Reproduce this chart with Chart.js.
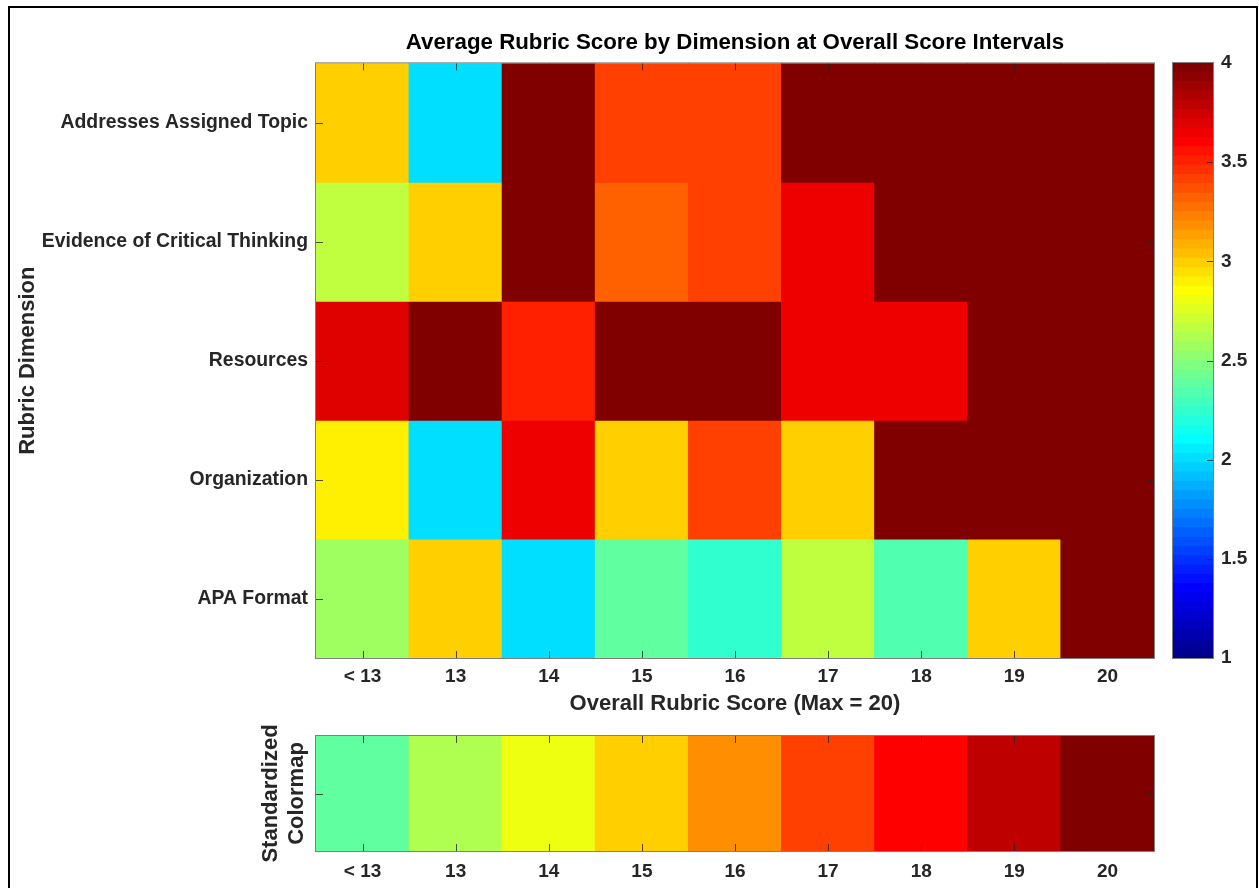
<!DOCTYPE html>
<html><head><meta charset="utf-8">
<script src="https://cdn.jsdelivr.net/npm/chart.js@4.4.1/dist/chart.umd.min.js"></script>
<style>
html,body{margin:0;padding:0;background:#fff;}
#wrap{position:relative;width:1259px;height:888px;overflow:hidden;background:#fff;}
canvas{position:absolute;}
#frame{position:absolute;left:8px;top:6px;width:1250px;height:900px;border:2px solid #000;border-bottom:none;box-sizing:border-box;}
</style></head><body>
<div id="wrap">
<div id="frame"></div>
<canvas id="main" width="1259" height="730" style="left:0;top:0"></canvas>
<canvas id="cbar" width="99" height="730" style="left:1160px;top:0"></canvas>
<canvas id="strip" width="1259" height="188" style="left:0;top:700px"></canvas>
</div>
<script>
// ---- data ----
const scoreLabels = ['< 13','13','14','15','16','17','18','19','20'];
const dimensions = ['Addresses Assigned Topic','Evidence of Critical Thinking','Resources','Organization','APA Format'];
const addressesTopic   = [3.0, 2.0, 4.0, 3.4, 3.4, 4.0, 4.0, 4.0, 4.0];
const criticalThinking = [2.67, 3.0, 4.0, 3.33, 3.4, 3.65, 4.0, 4.0, 4.0];
const resources        = [3.7, 4.0, 3.5, 4.0, 4.0, 3.65, 3.65, 4.0, 4.0];
const organization     = [2.9, 2.0, 3.65, 3.0, 3.4, 3.0, 4.0, 4.0, 4.0];
const apaFormat        = [2.57, 3.0, 2.0, 2.4, 2.25, 2.67, 2.33, 3.0, 4.0];
const standardized     = [2.4, 2.6, 2.8, 3.0, 3.2, 3.4, 3.6, 3.8, 4.0];
const colorbarTicks    = [1, 1.5, 2, 2.5, 3, 3.5, 4];
const colorMin = 1, colorMax = 4, colorLevels = 64;

const rows = [addressesTopic, criticalThinking, resources, organization, apaFormat];

// ---- MATLAB-style jet colormap ----
function jetMap(m){
  const n = Math.ceil(m/4);
  const u = [];
  for (let i=1;i<=n;i++) u.push(i/n);
  for (let i=1;i<n;i++) u.push(1);
  for (let i=n;i>=1;i--) u.push(i/n);
  const gOff = Math.ceil(n/2) - (m%4===1?1:0);
  const map = Array.from({length:m},()=>[0,0,0]);
  for (let j=0;j<u.length;j++){
    const g = gOff + j + 1, r = g + n, b = g - n;
    if (g>=1&&g<=m) map[g-1][1]=u[j];
    if (r>=1&&r<=m) map[r-1][0]=u[j];
    if (b>=1&&b<=m) map[b-1][2]=u[j];
  }
  return map;
}
const JET = jetMap(colorLevels);
function rgbOf(c){ return 'rgb('+c.map(x=>Math.round(x*255)).join(',')+')'; }
function colorFor(v){
  let k = Math.floor((v-colorMin)/(colorMax-colorMin)*colorLevels);
  k = Math.max(0, Math.min(colorLevels-1, k));
  return rgbOf(JET[k]);
}

const FONT = "'Liberation Sans', Arial, Helvetica, sans-serif";
Chart.defaults.font.family = FONT;
Chart.defaults.animation = false;
Chart.defaults.color = '#262626';

const axesBox = {
  id:'axesBox',
  afterDatasetsDraw(chart, args, o){
    const {ctx, chartArea:a} = chart;
    const L = o.len || 7;
    ctx.save();
    ctx.lineWidth = 1;
    ctx.strokeStyle = 'rgba(38,38,38,0.8)';
    ctx.beginPath();
    if (o.xTicks) {
      const xs = chart.scales.x;
      xs.ticks.forEach((t,i)=>{
        const px = Math.round(xs.getPixelForTick(i))+0.5;
        ctx.moveTo(px,a.top); ctx.lineTo(px,a.top+L);
        ctx.moveTo(px,a.bottom); ctx.lineTo(px,a.bottom-L);
      });
    }
    if (o.yValues) {
      const ys = chart.scales.y;
      o.yValues.forEach(v=>{
        const py = Math.round(ys.getPixelForValue(v))+0.5;
        if (o.yLeft !== false){ ctx.moveTo(a.left,py); ctx.lineTo(a.left+L,py); }
        if (o.yRight !== false){ ctx.moveTo(a.right,py); ctx.lineTo(a.right-L,py); }
      });
    }
    ctx.stroke();
    ctx.strokeStyle = '#808080';
    ctx.strokeRect(a.left-0.5, a.top-0.5, a.right-a.left+1, a.bottom-a.top+1);
    ctx.restore();
  }
};

const barCommon = {barPercentage:1, categoryPercentage:1, grouped:false, borderWidth:0, borderSkipped:false, inflateAmount:0.5};
const noGrid = {display:false, drawTicks:false};

// ---- main heatmap ----
new Chart(document.getElementById('main'), {
  type:'bar',
  data:{
    labels: scoreLabels,
    datasets: rows.map((vals, r)=>Object.assign({
      label: dimensions[r],
      data: vals.map(()=>[r-0.5, r+0.5]),
      backgroundColor: vals.map(colorFor)
    }, barCommon))
  },
  options:{
    responsive:false,
    layout:{padding:{left:10,right:105,top:20,bottom:0}, autoPadding:false},
    plugins:{
      legend:{display:false}, tooltip:{enabled:false},
      title:{display:true, text:'Average Rubric Score by Dimension at Overall Score Intervals', fullSize:false,
        color:'#000', font:{size:22.3, weight:'bold'}, padding:{top:9.8,bottom:6.8}},
      axesBox:{xTicks:true, yValues: dimensions.map((_,i)=>i)}
    },
    scales:{
      x:{type:'category', offset:true, afterFit:s=>{s.height=72;},
        grid:noGrid, border:{display:false},
        ticks:{font:{size:19, weight:'bold'}, color:'#262626', padding:7, maxRotation:0, autoSkip:false},
        title:{display:true, text:'Overall Rubric Score (Max = 20)', color:'#262626', font:{size:22, weight:'bold'}, padding:{top:0,bottom:12.8}}
      },
      y:{type:'linear', min:-0.5, max:4.5, reverse:true,
        afterBuildTicks:s=>{ s.ticks = dimensions.map((_,i)=>({value:i})); },
        afterFit:s=>{s.width=306;},
        grid:noGrid, border:{display:false},
        ticks:{callback:v=>dimensions[v], font:{size:19.4, weight:'bold'}, color:'#262626', padding:8, autoSkip:false},
        title:{display:true, text:'Rubric Dimension', color:'#262626', font:{size:22, weight:'bold'}, padding:{top:4.8,bottom:0}}
      }
    }
  },
  plugins:[axesBox]
});

// ---- colorbar ----
const cbSegments = JET.map((c,k)=>[colorMin+(colorMax-colorMin)*k/colorLevels, colorMin+(colorMax-colorMin)*(k+1)/colorLevels]);
new Chart(document.getElementById('cbar'), {
  type:'bar',
  data:{
    labels:['cb'],
    datasets: cbSegments.map((seg,k)=>Object.assign({data:[seg], backgroundColor: rgbOf(JET[k])}, barCommon))
  },
  options:{
    responsive:false,
    layout:{padding:{left:13,right:0,top:63,bottom:72}, autoPadding:false},
    plugins:{legend:{display:false}, tooltip:{enabled:false}, axesBox:{xTicks:false, yValues:colorbarTicks, yLeft:false, len:6}},
    scales:{
      x:{display:false, offset:true},
      y:{type:'linear', position:'right', min:colorMin, max:colorMax,
        afterBuildTicks:s=>{ s.ticks = colorbarTicks.map(v=>({value:v})); },
        afterFit:s=>{s.width=46;},
        grid:noGrid, border:{display:false},
        ticks:{callback:v=>String(v), font:{size:19, weight:'bold'}, color:'#262626', padding:8}
      }
    }
  },
  plugins:[axesBox]
});

// ---- standardized colormap strip ----
new Chart(document.getElementById('strip'), {
  type:'bar',
  data:{
    labels: scoreLabels,
    datasets:[Object.assign({data: standardized.map(()=>[0,1]), backgroundColor: standardized.map(colorFor)}, barCommon)]
  },
  options:{
    responsive:false,
    layout:{padding:{left:250,right:105,top:36,bottom:0}, autoPadding:false},
    plugins:{legend:{display:false}, tooltip:{enabled:false}, axesBox:{xTicks:true, yValues:[0.5]}},
    scales:{
      x:{type:'category', offset:true, afterFit:s=>{s.height=37;},
        grid:noGrid, border:{display:false},
        ticks:{font:{size:19, weight:'bold'}, color:'#262626', padding:9, maxRotation:0, autoSkip:false}
      },
      y:{type:'linear', min:0, max:1, afterFit:s=>{s.width=66;},
        grid:noGrid, border:{display:false}, ticks:{display:false},
        title:{display:true, text:['Standardized','Colormap'], color:'#262626', font:{size:22, weight:'bold'}, padding:{top:7.8,bottom:0}}
      }
    }
  },
  plugins:[axesBox]
});
</script>
</body></html>
